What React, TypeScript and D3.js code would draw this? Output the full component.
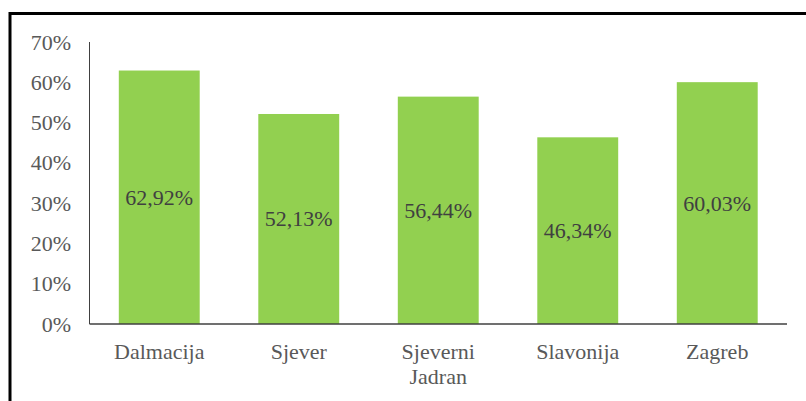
import React from "react";
import * as d3 from "d3";

const categories: string[][] = [["Dalmacija"], ["Sjever"], ["Sjeverni", "Jadran"], ["Slavonija"], ["Zagreb"]];
const values: number[] = [62.92, 52.13, 56.44, 46.34, 60.03];
const valueLabels: string[] = ["62,92%", "52,13%", "56,44%", "46,34%", "60,03%"];
const yTicks: number[] = [0, 10, 20, 30, 40, 50, 60, 70];

const W = 806;
const H = 401;
const left = 89.5;
const right = 787;
const top = 42;
const bottom = 324;
const FONT = "Liberation Serif";

export default function App() {
  const x = d3.scaleBand<number>().domain(d3.range(categories.length)).range([left, right]).paddingInner(0.42).paddingOuter(0.21);
  const y = d3.scaleLinear().domain([0, 70]).range([bottom, top]);
  const ts = { fontFamily: FONT, fontSize: "22px" };
  return (
    <svg width={W} height={H} style={{ position: "absolute", left: 0, top: 0, background: "#fff" }}>
      <rect x={0} y={0} width={W} height={H} fill="#fff" />
      <line x1={10} y1={13.5} x2={W} y2={13.5} stroke="#000" strokeWidth={3} />
      <line x1={10} y1={12} x2={10} y2={H} stroke="#000" strokeWidth={3} />
      {values.map((v, i) => (
        <rect key={i} x={x(i)} y={y(v)} width={x.bandwidth()} height={bottom - y(v)} fill="#92D050" />
      ))}
      {values.map((v, i) => (
        <text key={"l" + i} x={(x(i) as number) + x.bandwidth() / 2} y={(y(v) + bottom) / 2} textAnchor="middle" dominantBaseline="central" style={ts} fill="#404040">
          {valueLabels[i]}
        </text>
      ))}
      <line x1={left} y1={top} x2={left} y2={bottom} stroke="#404040" strokeWidth={1} />
      <line x1={left} y1={bottom} x2={right} y2={bottom} stroke="#404040" strokeWidth={1.3} />
      {yTicks.map((t) => (
        <text key={"t" + t} x={71} y={y(t)} textAnchor="end" dominantBaseline="central" style={ts} fill="#595959">
          {t}%
        </text>
      ))}
      {categories.map((lines, i) => (
        <text key={"c" + i} textAnchor="middle" style={ts} fill="#595959">
          {lines.map((ln, j) => (
            <tspan key={j} x={(x(i) as number) + x.bandwidth() / 2} y={359 + j * 25}>
              {ln}
            </tspan>
          ))}
        </text>
      ))}
    </svg>
  );
}
